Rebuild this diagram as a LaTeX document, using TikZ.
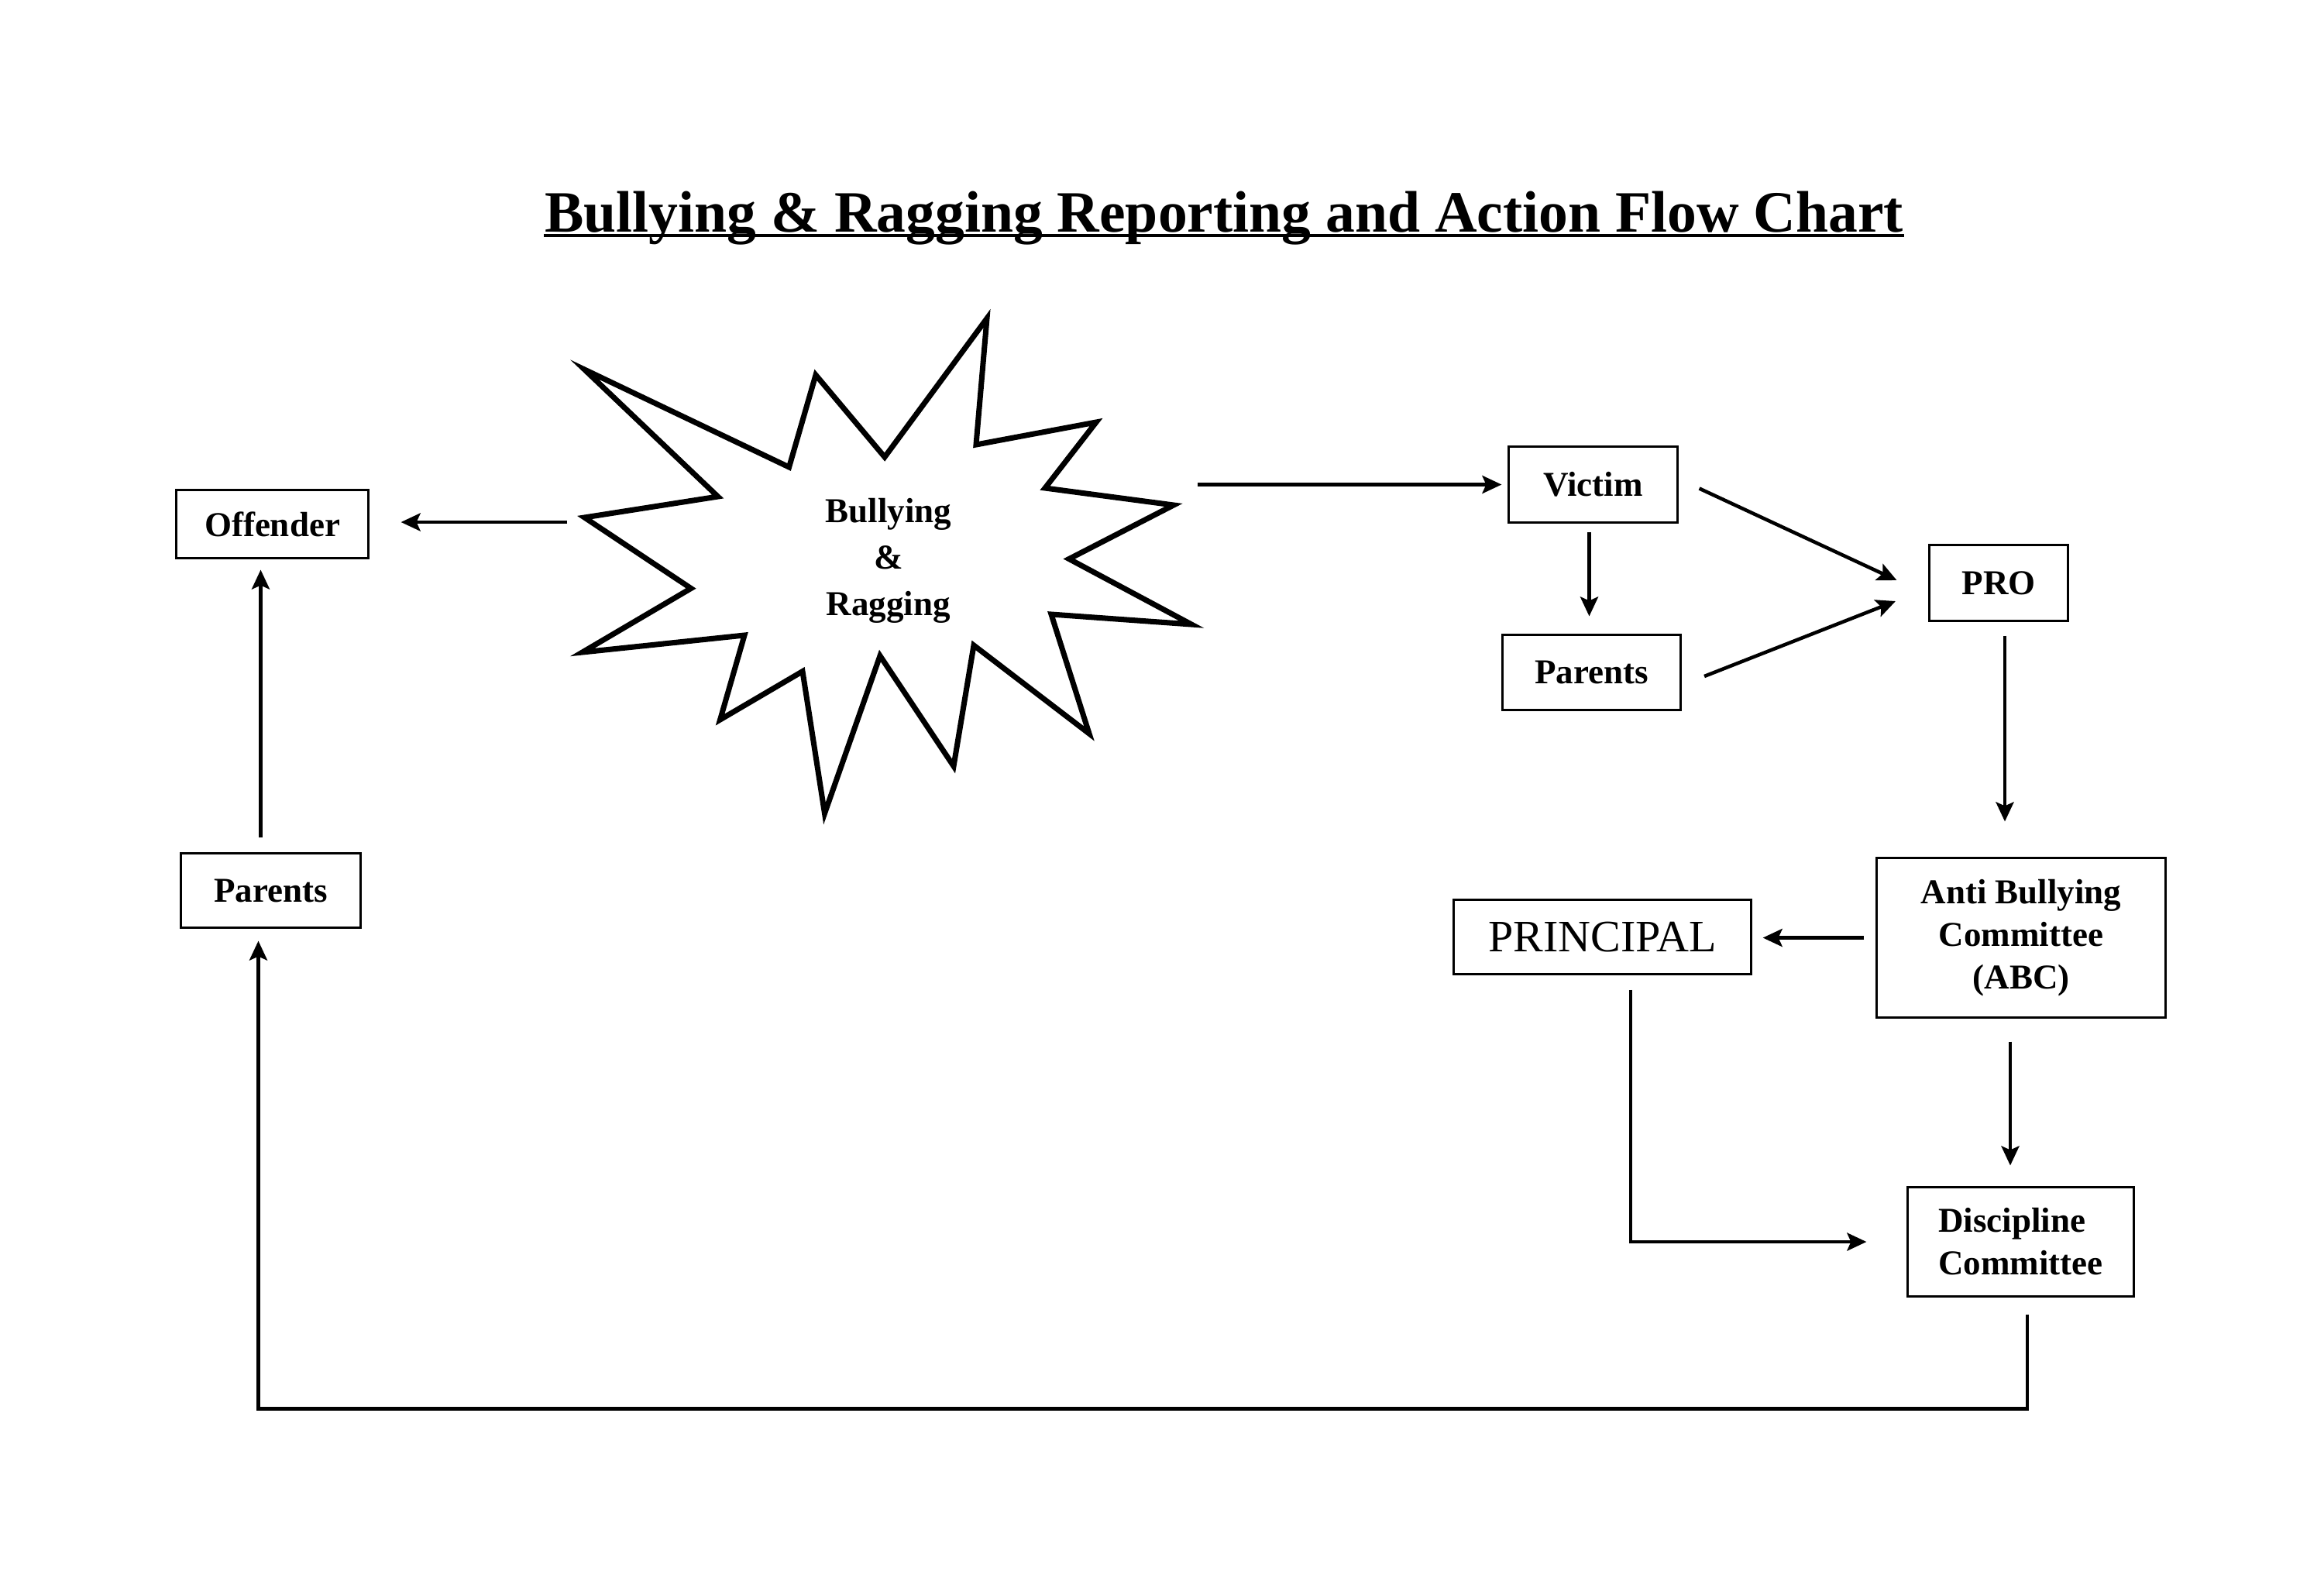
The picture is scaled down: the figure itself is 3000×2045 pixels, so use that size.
\documentclass[tikz,border=0pt]{standalone}
\usepackage{fontspec}
\setmainfont{Liberation Serif}
\usetikzlibrary{arrows.meta,calc}
\begin{document}
\begin{tikzpicture}[x=0.01cm,y=-0.01cm,
  box/.style={draw,line width=0.85pt,inner sep=0pt,font=\bfseries\fontsize{12.8}{15.6}\selectfont,align=center},
  arr/.style={line width=1.3pt,-{Stealth[length=2.5mm,width=2.3mm,inset=0.5mm]}},
  ln/.style={line width=1.3pt},
  starline/.style={line width=2pt,line join=miter,miter limit=10}]
\useasboundingbox (0,0) rectangle (3000,2045);
\fill[white] (0,0) rectangle (3000,2045);

% title
\node[font=\bfseries\fontsize{21.5}{26}\selectfont,anchor=base,inner sep=0pt] (title) at (1580,299) {Bullying \& Ragging Reporting and Action Flow Chart};
\draw[line width=1.4pt] ($(title.base west)+(0,5)$) -- ($(title.base east)+(0,5)$);

% star
\draw[starline] (754.5,477) -- (1018.6,603) -- (1053,484) -- (1142,590) -- (1274,411) -- (1260,574) -- (1415,545) -- (1349,630) -- (1515,652) -- (1380,721.5) -- (1538,806) -- (1357,793) -- (1406,947) -- (1257,833) -- (1231,989) -- (1136,846.5) -- (1064.5,1050) -- (1036,866.6) -- (929.6,929) -- (961,820) -- (751.7,842) -- (892,759.5) -- (754.5,668) -- (926.7,641) -- cycle;
\node[font=\bfseries\fontsize{12.8}{17}\selectfont,align=center,inner sep=0pt] (star) at (1147,724) {Bullying\\\&\\Ragging};
\coordinate (starL) at (732,674);
\coordinate (starR) at (1546,625.5);

% boxes
\node[box,minimum width=2.47cm,minimum height=0.87cm] (off) at (351.5,676.5) {Offender};
\node[box,minimum width=2.31cm,minimum height=0.95cm] (parL) at (349.5,1149.5) {Parents};
\node[box,minimum width=2.17cm,minimum height=0.97cm] (vic) at (2056.5,625.5) {Victim};
\node[box,minimum width=2.29cm,minimum height=0.96cm] (parR) at (2054.5,868) {Parents};
\node[box,minimum width=1.78cm,minimum height=0.97cm] (pro) at (2580,752.5) {PRO};
\node[box,minimum width=3.72cm,minimum height=2.05cm] (abc) at (2609,1210.5) {Anti Bullying\\Committee\\(ABC)};
\node[box,font=\fontsize{16.5}{19}\selectfont,minimum width=3.83cm,minimum height=0.95cm] (prin) at (2068.5,1209.5) {PRINCIPAL};
\node[box,align=left,minimum width=2.91cm,minimum height=1.40cm] (disc) at (2608.5,1603) {Discipline\\Committee};

% connectors
\draw[arr,shorten >=0.41cm] (starL) -- (starL -| off.east);
\coordinate (p2s) at ($(parL.north)+(-13,-19)$);
\coordinate (p2e) at (p2s |- off.south);
\draw[arr,shorten >=0.14cm] (p2s) -- (p2e);
\draw[arr,shorten >=0.08cm] (starR) -- (starR -| vic.west);
\coordinate (v1) at ($(vic.south)+(-5,11)$);
\draw[arr,shorten >=0.23cm] (v1) -- (v1 |- parR.north);
\draw[arr] ($(vic.east)+(27,5)$) -- ($(pro.west)+(-41,-3.5)$);
\draw[arr] ($(parR.east)+(29.5,5)$) -- ($(pro.west)+(-42.5,23.5)$);
\coordinate (q1) at ($(pro.south)+(8,18)$);
\draw[arr,shorten >=0.46cm] (q1) -- (q1 |- abc.north);
\draw[arr,shorten <=0.15cm,shorten >=0.14cm] (abc.west) -- (abc.west -| prin.east);
\coordinate (q2) at ($(abc.south)+(-14,30)$);
\draw[arr,shorten >=0.27cm] (q2) -- (q2 |- disc.north);
\coordinate (q3) at ($(prin.south)+(36.5,19)$);
\draw[arr,shorten >=0.52cm] (q3) |- (disc.west);
\coordinate (q4) at ($(disc.south)+(8.5,22)$);
\coordinate (q5) at ($(parL.south)+(-16,0)$);
\draw[arr,shorten >=0.16cm] (q4) -- ++(0,122) -| (q5);
\end{tikzpicture}
\end{document}
